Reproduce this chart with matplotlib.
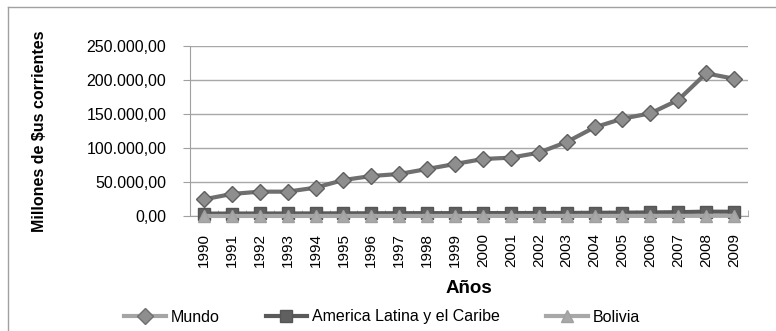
import numpy as np
import matplotlib.pyplot as plt
from matplotlib.lines import Line2D
from matplotlib.ticker import FuncFormatter, FixedLocator

plt.rcParams['font.family'] = ['Liberation Sans', 'DejaVu Sans']

years = list(range(1990, 2010))
mundo = [24500, 32400, 35800, 35800, 41700, 52900, 58800, 61800, 69100, 76500,
         83800, 85800, 93100, 108800, 130400, 143100, 151000, 170600, 209800, 201900]
latam = [3500, 3600, 3700, 3700, 3800, 3900, 4000, 4100, 4200, 4200,
         4300, 4300, 4400, 4500, 4700, 4900, 5200, 5600, 6400, 6200]
bolivia = [30, 40, 50, 50, 60, 70, 80, 90, 90, 90,
           100, 100, 100, 110, 130, 150, 180, 220, 280, 290]


def fmt(v, pos):
    s = f'{v:,.2f}'
    return s.replace(',', 'X').replace('.', ',').replace('X', '.')


fig = plt.figure(figsize=(7.76, 3.31), dpi=100)
ax = fig.add_axes([190 / 776, 1 - 216 / 331, 558 / 776, 170 / 331])
x = np.arange(len(years))

ax.plot(x, mundo, color='#6f6f6f', lw=3, marker='D', ms=8.5, mfc='#8e8e8e', mec='#5f5f5f', mew=1,
        zorder=3, clip_on=False)
ax.plot(x, latam, color='#5a5a5a', lw=3, marker='s', ms=8, mfc='#606060', mec='#555555',
        zorder=4, clip_on=False)
ax.plot(x, bolivia, color='#a8a8a8', lw=3, marker='^', ms=9, mfc='#a8a8a8', mec='#a0a0a0',
        zorder=5, clip_on=False)

ax.set_xlim(-0.5, len(years) - 0.5)
ax.set_ylim(0, 250000)
ax.set_yticks(np.arange(0, 250001, 50000))
ax.yaxis.set_major_formatter(FuncFormatter(fmt))
ax.set_xticks(x)
ax.set_xticklabels([str(y) for y in years], rotation=90, fontsize=11)
ax.xaxis.set_minor_locator(FixedLocator(np.arange(-0.5, len(years), 1)))
ax.tick_params(axis='x', which='major', length=0, pad=12)
ax.tick_params(axis='x', which='minor', length=4, color='#a0a0a0', direction='in')
ax.tick_params(axis='y', length=5, color='#a0a0a0', labelsize=11.5, pad=12)

ax.yaxis.grid(True, color='#a8a8a8', lw=1)
ax.set_axisbelow(True)
for s in ['top', 'right']:
    ax.spines[s].set_visible(False)
ax.spines['left'].set_color('#a0a0a0')
ax.spines['bottom'].set_color('#a0a0a0')

ax.set_ylabel('Millones de $us corrientes', fontsize=11.5, weight='bold')
ax.yaxis.set_label_coords(-0.256, 0.5)
ax.set_xlabel('Años', fontsize=13.5, weight='bold')
ax.xaxis.set_label_coords(0.5, -(280 - 216) / 170)

handles = [
    Line2D([], [], color='#a5a5a5', lw=3, marker='D', ms=8, mfc='#8e8e8e', mec='#6f6f6f'),
    Line2D([], [], color='#5a5a5a', lw=3, marker='s', ms=8, mfc='#606060', mec='#555555'),
    Line2D([], [], color='#a8a8a8', lw=3, marker='^', ms=9, mfc='#a8a8a8', mec='#a0a0a0'),
]
labels = ['Mundo', 'America Latina y el Caribe', 'Bolivia']
fig.legend(handles, labels, loc='center', bbox_to_anchor=(382 / 776, 1 - 317 / 331), ncol=3,
           frameon=False, fontsize=11.5, columnspacing=2.9, handlelength=2.6, handletextpad=0.3)

# outer chart border
fig.add_artist(Line2D([8 / 776, 8 / 776], [0, 1 - 7 / 331], color='#a0a0a0', lw=1))
fig.add_artist(Line2D([8 / 776, 1], [1 - 7 / 331, 1 - 7 / 331], color='#a0a0a0', lw=1))

fig.savefig('out.png', dpi=100)
